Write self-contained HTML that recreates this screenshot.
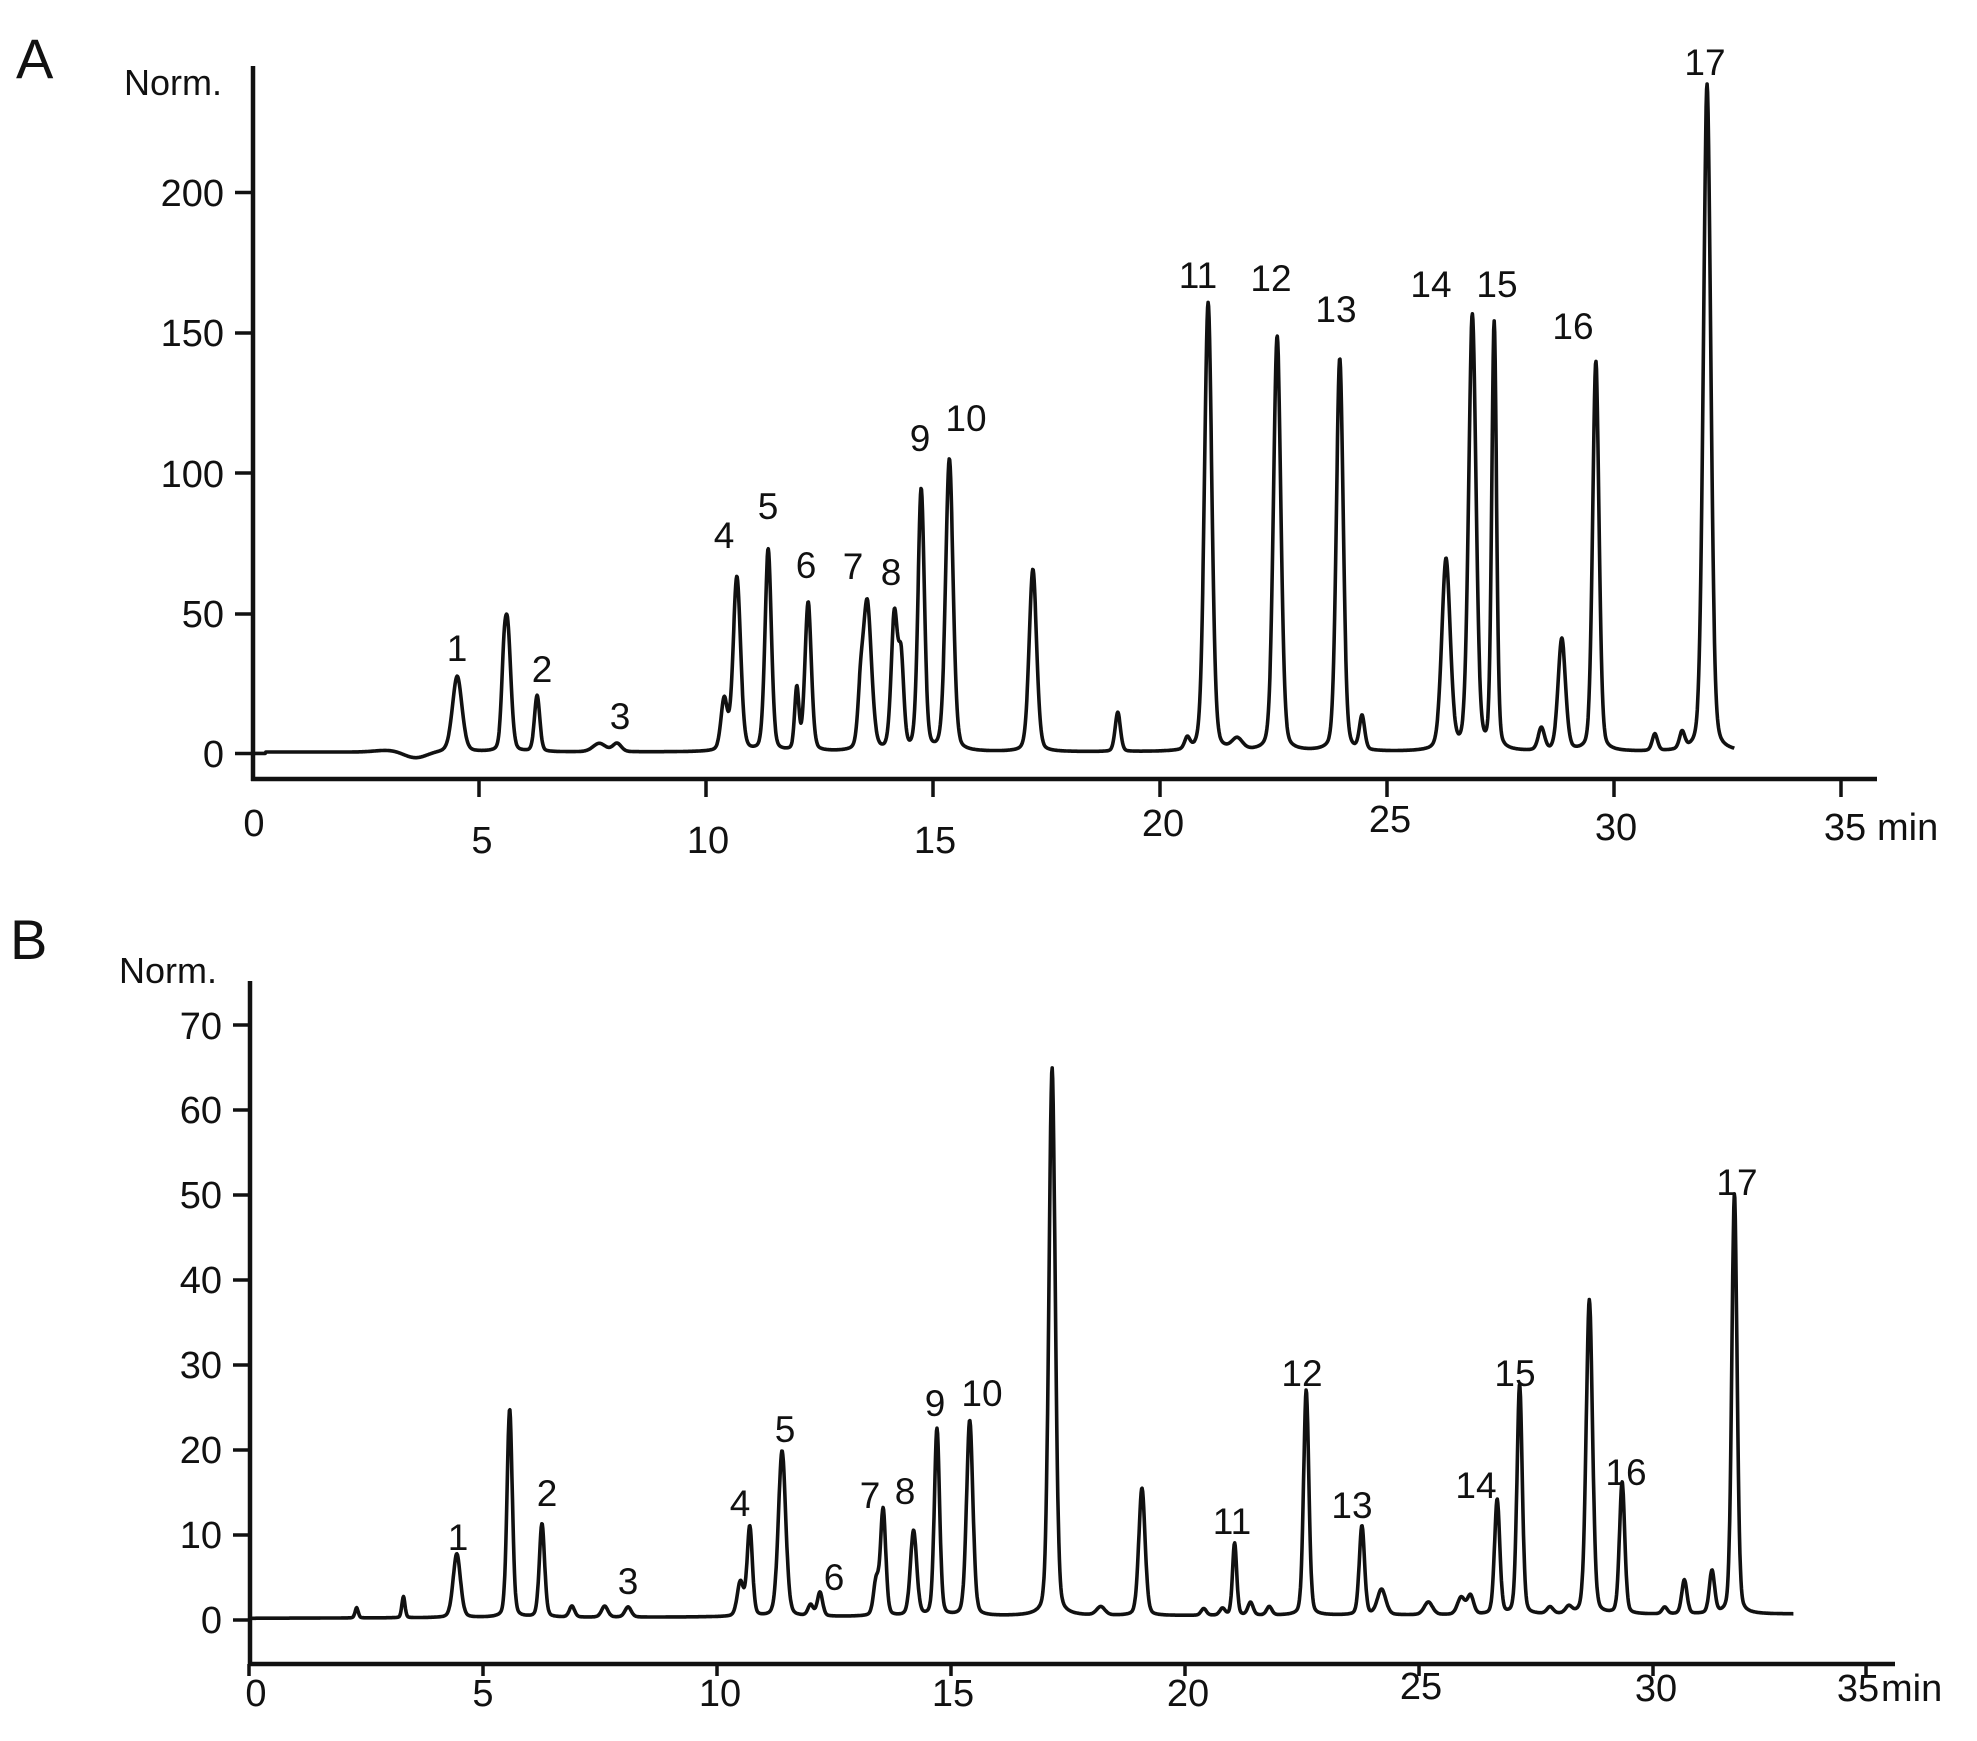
<!DOCTYPE html>
<html><head><meta charset="utf-8"><style>
html,body{margin:0;padding:0;background:#fff}
svg text{font-family:"Liberation Sans",Arial,sans-serif;fill:#111}
</style></head><body>
<svg id="s" width="1977" height="1736" viewBox="0 0 1977 1736" xmlns="http://www.w3.org/2000/svg">
<g stroke="#111" stroke-width="4.5" fill="none">
<line x1="253" y1="66" x2="253" y2="781"/>
<line x1="251" y1="779" x2="1877" y2="779"/>
<line x1="250" y1="981" x2="250" y2="1666"/>
<line x1="248" y1="1664" x2="1895" y2="1664"/>
</g>
<g id="ticks" stroke="#111" stroke-width="3.5"></g>
<g font-size="38">
<text x="16" y="78" font-size="56">A</text>
<text x="124" y="95" font-size="36">Norm.</text>
<text x="10" y="959" font-size="56">B</text>
<text x="119" y="983" font-size="36">Norm.</text>
<g text-anchor="end">
<text x="224" y="206">200</text><text x="224" y="346">150</text><text x="224" y="487">100</text>
<text x="224" y="627">50</text><text x="224" y="767">0</text>
<text x="222" y="1039">70</text><text x="222" y="1123">60</text><text x="222" y="1208">50</text>
<text x="222" y="1293">40</text><text x="222" y="1378">30</text><text x="222" y="1463">20</text>
<text x="222" y="1548">10</text><text x="222" y="1633">0</text>
</g>
<g text-anchor="middle">
<text x="254" y="836">0</text><text x="482" y="853">5</text><text x="708" y="853">10</text>
<text x="935" y="853">15</text><text x="1163" y="836">20</text><text x="1390" y="832">25</text>
<text x="1616" y="840">30</text><text x="1845" y="840">35</text>
<text x="256" y="1706">0</text><text x="483" y="1706">5</text><text x="720" y="1706">10</text>
<text x="953" y="1706">15</text><text x="1188" y="1706">20</text><text x="1421" y="1699">25</text>
<text x="1656" y="1701">30</text><text x="1858" y="1701">35</text>
</g>
<text x="1877" y="840">min</text>
<text x="1881" y="1701">min</text>
</g>
<g id="labels" font-size="37" text-anchor="middle"></g>
<path id="pa" fill="none" stroke="#111" stroke-width="3.6" stroke-linejoin="round"/>
<path id="pb" fill="none" stroke="#111" stroke-width="3.6" stroke-linejoin="round"/>
</svg>
<script>
var NS="http://www.w3.org/2000/svg";
function el(p,n,a,t){var e=document.createElementNS(NS,n);for(var k in a)e.setAttribute(k,a[k]);if(t)e.textContent=t;p.appendChild(e);}
var tk=document.getElementById('ticks');
[192.5,333,473,614,753.5].forEach(function(y){el(tk,'line',{x1:235,y1:y,x2:253,y2:y});});
[1025,1110,1195,1280,1365,1450,1535,1620].forEach(function(y){el(tk,'line',{x1:233,y1:y,x2:250,y2:y});});
for(var i=1;i<=7;i++){var x=252+i*5*45.4;el(tk,'line',{x1:x,y1:779,x2:x,y2:797});}
for(var i=0;i<=7;i++){var x=249+i*5*46.8;if(i==7)x=1866;el(tk,'line',{x1:x,y1:1664,x2:x,y2:1676});}
var lb=document.getElementById('labels');
var LA=[[1,457,648],[2,542,669],[3,620,716],[4,724,535],[5,768,506],[6,806,565],[7,853,566],[8,891,572],[9,920,438],[10,966,418],[11,1198,275],[12,1271,278],[13,1336,309],[14,1431,284],[15,1497,284],[16,1573,326],[17,1705,62]];
var LB=[[1,458,1537],[2,547,1493],[3,628,1581],[4,740,1503],[5,785,1429],[6,834,1577],[7,870,1495],[8,905,1491],[9,935,1403],[10,982,1393],[11,1232,1521],[12,1302,1373],[13,1352,1505],[14,1476,1485],[15,1515,1373],[16,1626,1472],[17,1737,1182]];
LA.concat(LB).forEach(function(l){el(lb,'text',{x:l[1],y:l[2]+13},''+l[0]);});
function trace(P,base,t0,t1,xf,yf,id,wf){
 var d='',n=3000;
 for(var i=0;i<=n;i++){var t=t0+(t1-t0)*i/n,v=base(t);
  P.forEach(function(p){var z=(t-p[0])/(p[2]*wf);v+=p[1]*(0.75*Math.exp(-0.5*z*z*1.2)+0.25/(1+z*z));});
  d+=(i?'L':'M')+xf(t).toFixed(1)+' '+yf(v).toFixed(1);}
 document.getElementById(id).setAttribute('d',d);}
var PA=[[4.52,27,0.09],[5.55,25,0.05],[5.64,38,0.06],[6.28,20,0.05],[7.65,3,0.12],[8.04,3,0.08],
[10.4,18,0.06],[10.68,62,0.07],[11.37,72,0.06],[12.0,22,0.04],[12.25,53,0.06],[13.4,15,0.05],[13.55,53,0.08],[14.15,48,0.06],[14.3,30,0.05],
[14.74,93,0.06],[15.36,104,0.07],[17.2,65,0.07],[19.07,14,0.05],[20.6,4,0.05],[21.06,160,0.07],[21.7,4,0.1],[22.58,148,0.07],[23.96,140,0.065],[24.45,12,0.05],
[26.3,68,0.08],[26.88,155,0.07],[27.36,152,0.045],[28.4,8,0.06],[28.85,40,0.07],[29.6,139,0.06],[30.9,6,0.05],[31.5,6,0.05],[32.05,238,0.07]];
trace(PA,function(t){return (t<0.3?0:0.5)-2.2*Math.exp(-Math.pow((t-3.6)/0.35,2))+0.6*Math.exp(-Math.pow((t-3.0)/0.4,2));},0,32.65,
 function(t){return 252+t*45.4},function(v){return 753.5-v*2.806},'pa',1.3);
var PB=[[2.3,1.2,0.03],[3.3,2.5,0.03],[4.44,7.5,0.07],[5.57,24.5,0.05],[6.26,11,0.05],[6.9,1.3,0.05],[7.6,1.3,0.06],[8.1,1.2,0.06],
[10.5,4,0.06],[10.7,10.5,0.05],[11.39,19.5,0.07],[12.0,1.3,0.05],[12.2,2.8,0.05],[13.4,4,0.05],[13.55,12.5,0.05],[14.2,10,0.06],[14.7,22,0.05],[15.4,23,0.06],
[17.16,64.5,0.06],[18.2,1,0.08],[19.08,15,0.06],[20.4,0.8,0.05],[20.8,0.8,0.05],[21.06,8.5,0.04],[21.4,1.5,0.05],[21.8,1,0.05],[22.59,26.5,0.05],[23.78,10.5,0.05],[24.2,3,0.08],
[25.2,1.5,0.08],[25.9,2,0.07],[26.1,2.2,0.06],[26.67,13.5,0.05],[27.15,27,0.05],[27.8,0.8,0.06],[28.2,0.8,0.06],[28.64,37,0.06],[29.34,15.5,0.05],[30.25,0.8,0.05],[30.67,4,0.05],[31.26,5,0.05],[31.74,49.5,0.05]];
trace(PB,function(t){return 0.2+0.015*t},0.05,33.0,
 function(t){return 249+t*46.8},function(v){return 1620-v*8.5},'pb',1.25);
</script>
</body></html>
